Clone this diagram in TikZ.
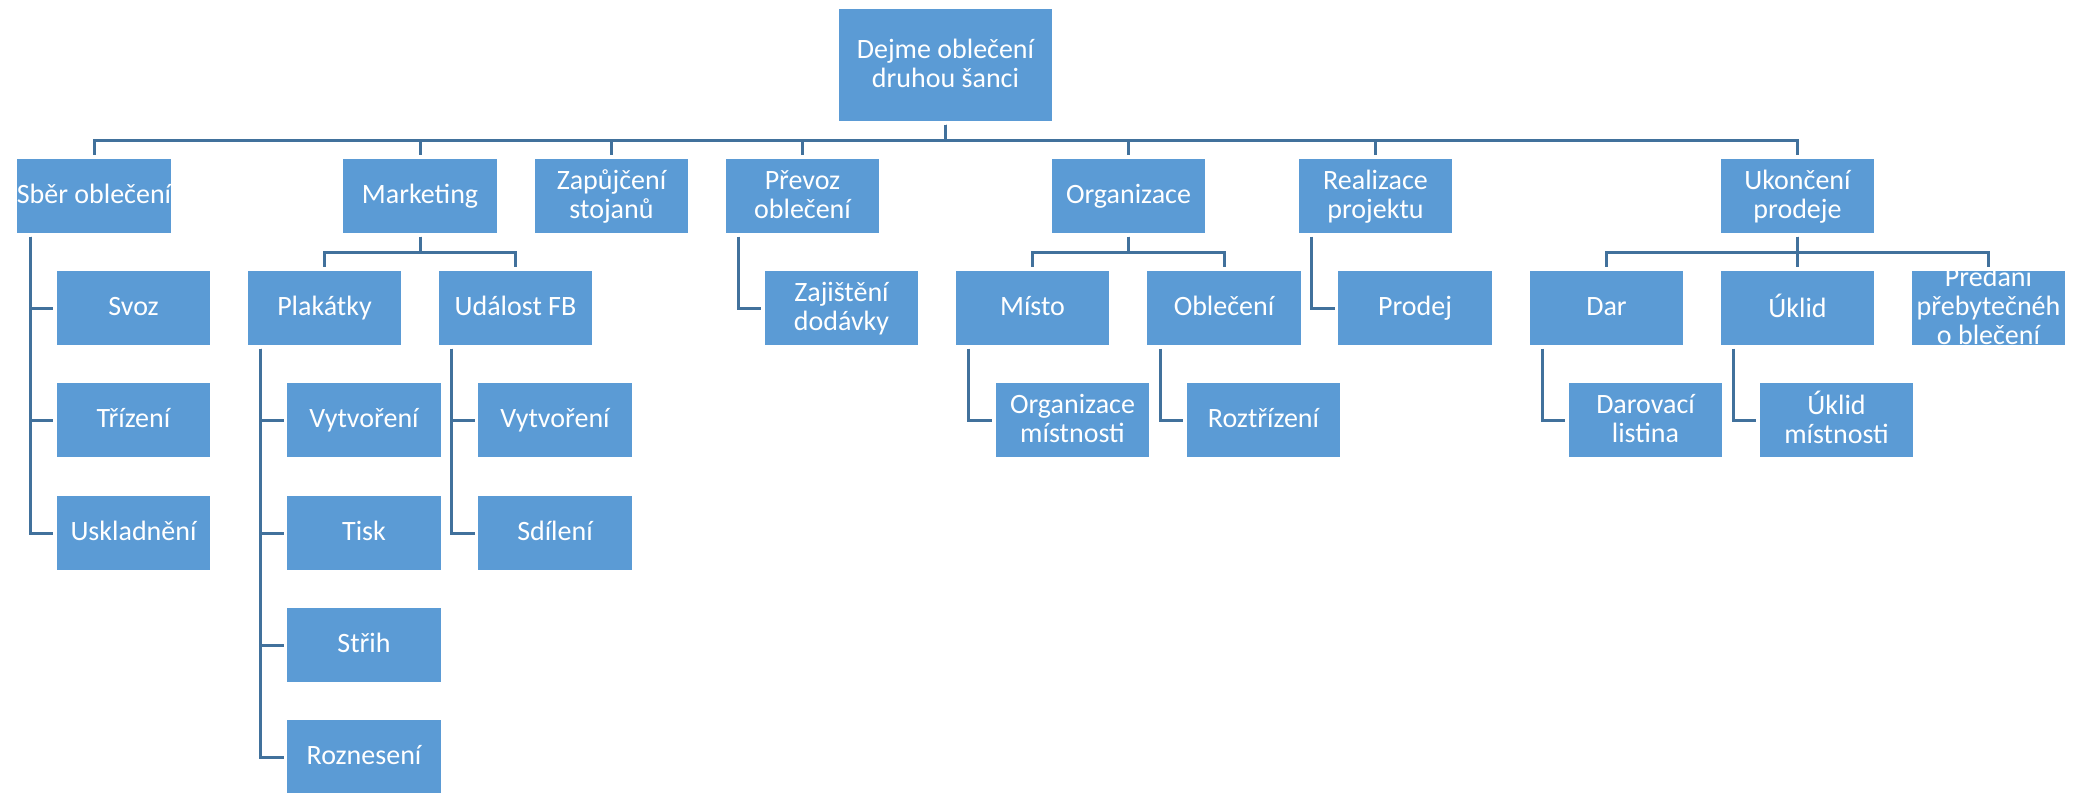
\documentclass[tikz,border=0pt]{standalone}
\usepackage{fontspec}
\setmainfont{Carlito}
\usetikzlibrary{backgrounds}
\definecolor{boxblue}{HTML}{5B9BD5}
\definecolor{linkblue}{HTML}{41719C}
\newcommand\bs{\rule[-2.25pt]{0pt}{12.25pt}}
\tikzset{
  box/.style={rectangle, fill=boxblue, draw=white, line width=0.6pt,
    minimum width=77.5pt, minimum height=38pt, inner sep=0pt, text=white,
    font=\fontsize{14}{14.5}\selectfont, align=center},
  rootbox/.style={box, minimum width=107.5pt, minimum height=57pt},
  link/.style={draw=linkblue, line width=1.5pt, shorten <=1pt, shorten >=1pt},
}
\begin{document}
\begin{tikzpicture}[x=0.5pt, y=-0.5pt]
\useasboundingbox (0,0) rectangle (2085,793);
% root
\node[rootbox] (root) at (945.5,65) {\bs Dejme oblečení\\druhou šanci\bs};
% level 1
\node[box] (sber) at (94,196) {\bs Sběr oblečení\bs};
\node[box] (mkt) at (420,196) {\bs Marketing\bs};
\node[box] (zap) at (611.5,196) {\bs Zapůjčení\\stojanů\bs};
\node[box] (prev) at (802.5,196) {\bs Převoz\\oblečení\bs};
\node[box] (org) at (1128.5,196) {\bs Organizace\bs};
\node[box] (real) at (1375.5,196) {\bs Realizace\\projektu\bs};
\node[box] (ukon) at (1797.5,196) {\bs Ukončení\\prodeje\bs};
% Sběr children
\node[box] (svoz) at (133.5,308) {\bs Svoz\bs};
\node[box] (triz) at (133.5,420) {\bs Třízení\bs};
\node[box] (uskl) at (133.5,533) {\bs Uskladnění\bs};
% Marketing children
\node[box] (plak) at (324.5,308) {\bs Plakátky\bs};
\node[box] (fb) at (515.5,308) {\bs Událost FB\bs};
\node[box] (pvyt) at (364,420) {\bs Vytvoření\bs};
\node[box] (tisk) at (364,533) {\bs Tisk\bs};
\node[box] (strih) at (364,645) {\bs Střih\bs};
\node[box] (rozn) at (364,757) {\bs Roznesení\bs};
\node[box] (fvyt) at (555,420) {\bs Vytvoření\bs};
\node[box] (sdil) at (555,533) {\bs Sdílení\bs};
% Převoz child
\node[box] (zaj) at (841.5,308) {\bs Zajištění\\dodávky\bs};
% Organizace children
\node[box] (misto) at (1032.5,308) {\bs Místo\bs};
\node[box] (obl) at (1224,308) {\bs Oblečení\bs};
\node[box] (orgm) at (1072.5,420) {\bs Organizace\\místnosti\bs};
\node[box] (roz) at (1263.5,420) {\bs Roztřízení\bs};
% Realizace child
\node[box] (prod) at (1415,308) {\bs Prodej\bs};
% Ukončení children
\node[box] (dar) at (1606.5,308) {\bs Dar\bs};
\node[box] (ukl) at (1797.5,308) {\bs Úklid\bs};
\node[box] (pred) at (1988.5,308) {};
\begin{scope}
  \clip (pred.north west) rectangle (pred.south east);
  \node[box, fill=none, draw=none] (predtext) at (pred.center) {\bs Předání\\přebytečnéh\\o blečení\bs};
\end{scope}
\node[box] (darl) at (1645.5,420) {\bs Darovací\\listina\bs};
\node[box] (uklm) at (1836.5,420) {\bs Úklid\\místnosti\bs};
% connectors
\begin{pgfonlayer}{background}
  \foreach \n in {sber,mkt,zap,prev,org,real,ukon}
    \draw[link] (root.south) -- ++(0,18) -| (\n.north);
  \foreach \n in {plak,fb}
    \draw[link] (mkt.south) -- ++(0,18) -| (\n.north);
  \foreach \n in {misto,obl}
    \draw[link] (org.south) -- ++(0,18) -| (\n.north);
  \foreach \n in {dar,ukl,pred}
    \draw[link] (ukon.south) -- ++(0,18) -| (\n.north);
  \foreach \n in {svoz,triz,uskl}
    \draw[link] ([xshift=7.25pt]sber.south west) |- (\n.west);
  \foreach \n in {pvyt,tisk,strih,rozn}
    \draw[link] ([xshift=7.25pt]plak.south west) |- (\n.west);
  \foreach \n in {fvyt,sdil}
    \draw[link] ([xshift=7.25pt]fb.south west) |- (\n.west);
  \draw[link] ([xshift=7.25pt]prev.south west) |- (zaj.west);
  \draw[link] ([xshift=7.25pt]misto.south west) |- (orgm.west);
  \draw[link] ([xshift=7.25pt]obl.south west) |- (roz.west);
  \draw[link] ([xshift=7.25pt]real.south west) |- (prod.west);
  \draw[link] ([xshift=7.25pt]dar.south west) |- (darl.west);
  \draw[link] ([xshift=7.25pt]ukl.south west) |- (uklm.west);
\end{pgfonlayer}
\end{tikzpicture}
\end{document}
